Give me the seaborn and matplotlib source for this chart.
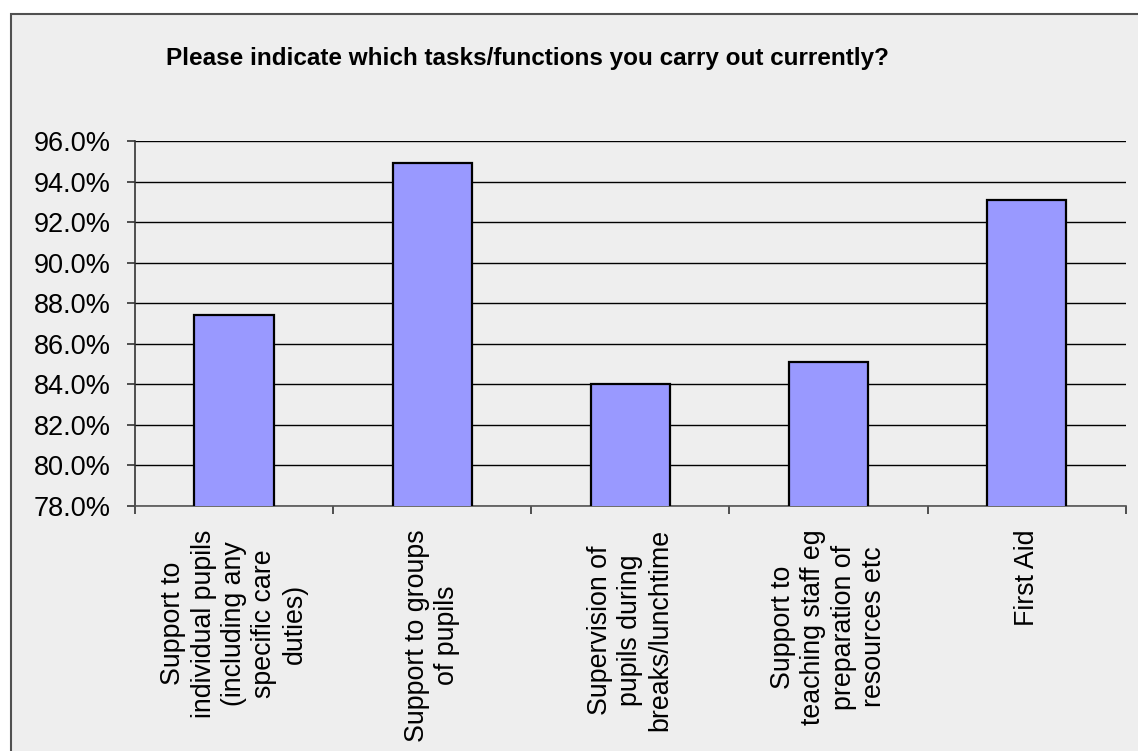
import numpy as np
import pandas as pd
import matplotlib
matplotlib.use("Agg")
import matplotlib.pyplot as plt
import matplotlib.patches as mpatches
import seaborn as sns

# Survey results: share of respondents carrying out each task
tasks = [
    "Support to\nindividual pupils\n(including any\nspecific care\nduties)",
    "Support to groups\nof pupils",
    "Supervision of\npupils during\nbreaks/lunchtime",
    "Support to\nteaching staff eg\npreparation of\nresources etc",
    "First Aid",
]
percent = [87.4, 94.9, 84.0, 85.1, 93.1]
y_ticks = [78, 80, 82, 84, 86, 88, 90, 92, 94, 96]
title = "Please indicate which tasks/functions you carry out currently?"

sns.set_style("white")
plt.rcParams["font.family"] = ["Liberation Sans", "DejaVu Sans"]
plt.rcParams["text.color"] = "black"
plt.rcParams["xtick.color"] = "black"
plt.rcParams["ytick.color"] = "black"

W, H = 1138, 751
fig = plt.figure(figsize=(W / 100, H / 100), dpi=100, facecolor="white")

# chart area panel with border (extends past right/bottom edge)
panel = mpatches.Rectangle((11 / W, -0.02), 1.05, (H - 14) / H + 0.02,
                           transform=fig.transFigure, facecolor="#EEEEEE",
                           edgecolor="#505050", linewidth=1.5, zorder=-5)
fig.add_artist(panel)

left, right = 135 / W, 1125.7 / W
bottom, top = (H - 505.7) / H, (H - 141) / H
ax = fig.add_axes([left, bottom, right - left, top - bottom], zorder=2)
ax.set_facecolor("#EEEEEE")

df = pd.DataFrame({"task": tasks, "percent": percent})
sns.barplot(data=df, x="task", y="percent", color="#9999FF", saturation=1,
            edgecolor="black", linewidth=1.6, width=0.40, ax=ax, zorder=3)

ax.set_ylim(78, 96)
ax.set_xlim(-0.5, len(tasks) - 0.5)
ax.set_yticks(y_ticks)
ax.set_yticklabels([f"{v:.1f}%" for v in y_ticks], fontsize=19.5)
ax.yaxis.grid(True, color="black", linewidth=1.0, zorder=1)
ax.set_axisbelow(True)

# category boundary ticks on the x axis, labels at centres
ax.set_xticks(np.arange(-0.5, len(tasks), 1.0))
ax.set_xticklabels([""] * (len(tasks) + 1))
ax.set_xticks(np.arange(len(tasks)), minor=True)
ax.set_xticklabels(tasks, minor=True, rotation=90, fontsize=19.3,
                   ha="center", va="top", linespacing=1.22)
for lab in ax.get_xticklabels(minor=True):
    lab.set_multialignment("center")
ax.tick_params(axis="x", which="minor", length=0, pad=17)
ax.tick_params(axis="x", which="major", direction="out", length=6,
               width=1.2, color="#333333", bottom=True)
ax.tick_params(axis="y", direction="out", length=5.5, width=1.2,
               color="#333333", pad=12, left=True)
ax.set_xlabel("")
ax.set_ylabel("")

for side in ("top", "right"):
    ax.spines[side].set_visible(False)
ax.spines["left"].set_color("#333333")
ax.spines["left"].set_linewidth(1.2)
ax.spines["bottom"].set_color("#555555")
ax.spines["bottom"].set_linewidth(1.2)

fig.text(527 / W, (H - 65) / H, title, ha="center", va="baseline",
         fontsize=17.45, fontweight="bold")

fig.savefig("out.png", dpi=100, facecolor="white")
